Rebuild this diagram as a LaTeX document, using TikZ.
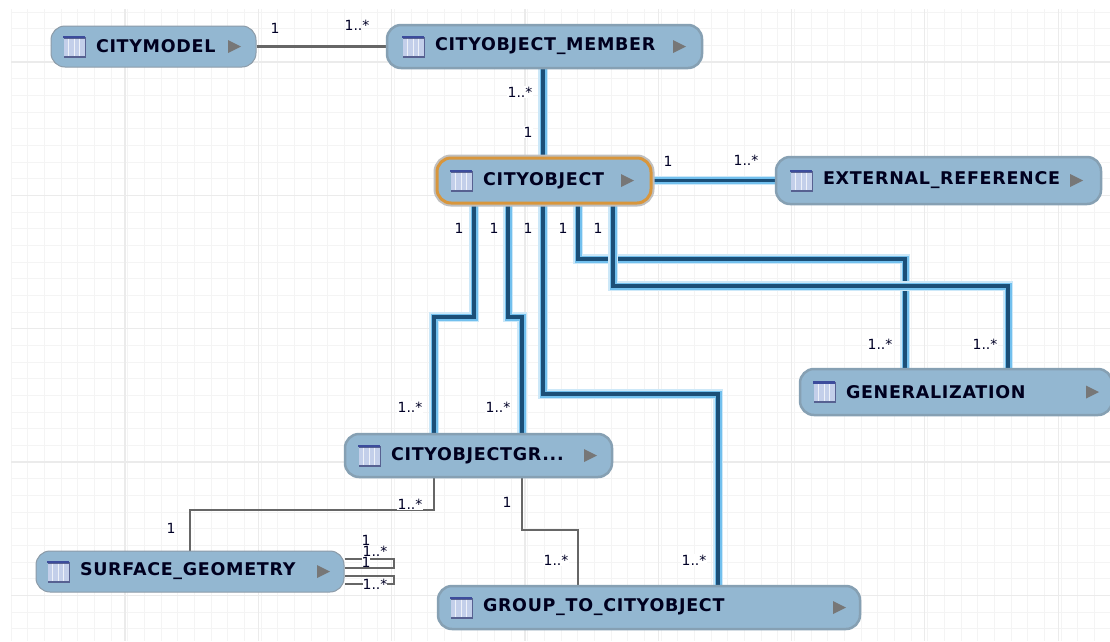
\documentclass[tikz,border=0pt]{standalone}
\usepackage{fontspec}
\setmainfont{DejaVu Sans}
\newfontfamily\boxfont[LetterSpace=4]{DejaVu Sans}
\usetikzlibrary{calc}
\definecolor{boxfill}{HTML}{93B7D1}
\definecolor{boxedge}{HTML}{8C9BA8}
\definecolor{halogray}{HTML}{86A0B3}
\definecolor{selorange}{HTML}{D8963C}
\definecolor{linkdark}{HTML}{1B4F78}
\definecolor{linkhalo}{HTML}{72C0EE}
\definecolor{linkhalofaint}{HTML}{CDE8F8}
\definecolor{linkgray}{HTML}{666666}
\definecolor{gridminor}{HTML}{F4F4F4}
\definecolor{gridmajor}{HTML}{EBEBEB}
\definecolor{iconfill}{HTML}{C3CFEA}
\definecolor{iconedge}{HTML}{3C4C9C}
\definecolor{arrowgray}{HTML}{777777}
\pgfdeclarelayer{gridlayer}
\pgfdeclarelayer{linklayer}
\pgfsetlayers{gridlayer,linklayer,main}
\tikzset{
  entity/.style={draw=boxedge,line width=1pt,fill=boxfill,rounded corners=14pt,inner xsep=0pt,inner ysep=0pt,
    align=left,font=\boxfont\bfseries\fontsize{17.5}{20}\selectfont,text=black!88!blue},
  haloed/.style={draw=halogray,line width=2.5pt},
  selected/.style={draw=selorange,line width=3pt,preaction={draw=black!25,line width=7pt}},
  bluelink/.style={preaction={draw=linkhalofaint,line width=9.5pt},preaction={draw=linkhalo,line width=7pt},draw=linkdark,line width=3.2pt},
  graylink/.style={draw=linkgray,line width=2.5pt},
  mult/.style={font=\fontsize{14}{16}\selectfont,inner sep=1pt,text=black!85!blue},
  multw/.style={mult,fill=white},
}
\newcommand\entitydraw[9]{%
  \node[entity,#9,minimum width={(#4-#2)*1pt},minimum height={(#5-#3)*1pt},text width={(#4-#2)*1pt}]
    (#1) at ({(#2+#4)/2},{(#3+#5)/2}) {\hspace*{\dimexpr#6pt-#2pt\relax}#8};
  \fill[iconedge!60!gray] ({#6-32},{(#3+#5)/2-10}) rectangle ({#6-10},{(#3+#5)/2+11});
  \fill[iconfill] ({#6-32},{(#3+#5)/2-8}) rectangle ({#6-11.5},{(#3+#5)/2+9});
  \fill[iconedge] ({#6-33},{(#3+#5)/2-11}) rectangle ({#6-11},{(#3+#5)/2-8.5});
  \foreach \k in {-27.5,-22,-16.5}{\draw[white!70!iconfill,line width=.9pt] ({#6+\k},{(#3+#5)/2-8}) -- ({#6+\k},{(#3+#5)/2+9});}
  \fill[arrowgray] (#7,{(#3+#5)/2-6.5}) -- ({#7+13},{(#3+#5)/2}) -- (#7,{(#3+#5)/2+6.5}) -- cycle;
}
\begin{document}
\begin{tikzpicture}[x=1pt,y=-1pt]
\useasboundingbox (0,0) rectangle (1110,641);
\begin{pgfonlayer}{gridlayer}
  \fill[white] (0,0) rectangle (1110,641);
  \foreach \i in {0,...,65}{\draw[gridminor,line width=1pt] ({11+\i*16.67},9) -- ({11+\i*16.67},641);}
  \foreach \i in {0,...,37}{\draw[gridminor,line width=1pt] (11,{12+\i*16.67}) -- (1110,{12+\i*16.67});}
  \foreach \i in {0,...,7}{\draw[gridmajor,line width=1.2pt] ({125+\i*133.3},9) -- ({125+\i*133.3},641);}
  \foreach \i in {0,...,4}{\draw[gridmajor,line width=1.2pt] (11,{62+\i*133.3}) -- (1110,{62+\i*133.3});}
\end{pgfonlayer}

\entitydraw{citymodel}{51}{26}{256}{67}{96}{228}{CITYMODEL}{}
\entitydraw{member}{387}{25}{702}{68}{435}{673}{CITYOBJECT\_MEMBER}{haloed}
\entitydraw{cityobject}{437}{158}{651}{203}{483}{621}{CITYOBJECT}{selected}
\entitydraw{extref}{776}{157}{1101}{204}{823}{1070}{EXTERNAL\_REFERENCE}{haloed}
\entitydraw{generalization}{800}{369}{1112}{415}{846}{1086}{GENERALIZATION}{haloed}
\entitydraw{group}{345}{434}{612}{477}{391}{584}{CITYOBJECTGR...}{haloed}
\entitydraw{surface}{36}{551}{344}{592}{80}{317}{SURFACE\_GEOMETRY}{}
\entitydraw{gtoc}{438}{586}{860}{629}{483}{833}{GROUP\_TO\_CITYOBJECT}{haloed}

\begin{pgfonlayer}{linklayer}
  \draw[graylink] (citymodel.east) -- (citymodel.east -| member.west);
  \draw[bluelink] (member.south -| 543,0) -- (cityobject.north -| 543,0);
  \draw[bluelink] (cityobject.east) -- (extref.west);
  \draw[bluelink] (cityobject.south -| 474,0) -- (474,317) -- (434,317) -- (group.north -| 434,0);
  \draw[bluelink] (cityobject.south -| 508,0) -- (508,317) -- (522,317) -- (group.north -| 522,0);
  \draw[bluelink] (cityobject.south -| 543,0) -- (543,394) -- (718,394) -- (gtoc.north -| 718,0);
  \draw[bluelink] (cityobject.south -| 578,0) -- (578,259) -- (905,259) -- (generalization.north -| 905,0);
  \draw[bluelink] (cityobject.south -| 613,0) -- (613,286) -- (1008,286) -- (generalization.north -| 1008,0);
  \draw[graylink] (group.south -| 434,0) -- (434,510) -- (190,510) -- (surface.north -| 190,0);
  \draw[graylink] (group.south -| 522,0) -- (522,530) -- (578,530) -- (gtoc.north -| 578,0);
  \draw[graylink] (surface.east |- 0,559) -- (394,559) -- (394,568) -- (surface.east |- 0,568);
  \draw[graylink] (surface.east |- 0,576) -- (394,576) -- (394,584) -- (surface.east |- 0,584);
\end{pgfonlayer}

\node[mult] (l1) at (275,28) {1};
\node[mult] (l2) at (357,25) {1..*};
\node[multw] (l3) at (520,92) {1..*};
\node[multw] (l4) at (528,132) {1};
\node[mult] (l5) at (668,161) {1};
\node[mult] (l6) at (746,160) {1..*};
\node[mult] (l7) at (459,228) {1};
\node[mult] (l8) at (494,228) {1};
\node[mult] (l9) at (528,228) {1};
\node[mult] (l10) at (563,228) {1};
\node[mult] (l11) at (598,228) {1};
\node[multw] (l12) at (880,344) {1..*};
\node[multw] (l13) at (985,344) {1..*};
\node[multw] (l14) at (410,407) {1..*};
\node[multw] (l15) at (498,407) {1..*};
\node[multw] (l16) at (410,504) {1..*};
\node[mult] (l17) at (507,502) {1};
\node[mult] (l18) at (171,528) {1};
\node[multw] (l19) at (556,560) {1..*};
\node[multw] (l20) at (694,560) {1..*};
\node[multw,inner sep=0pt] (l21) at (375,551) {1..*};
\node[multw,inner sep=0pt] (l22) at (366,562) {1};
\node[multw,inner sep=0pt] (l23) at (366,540) {1};
\node[multw,inner sep=0pt] (l24) at (375,584) {1..*};
\end{tikzpicture}
\end{document}
